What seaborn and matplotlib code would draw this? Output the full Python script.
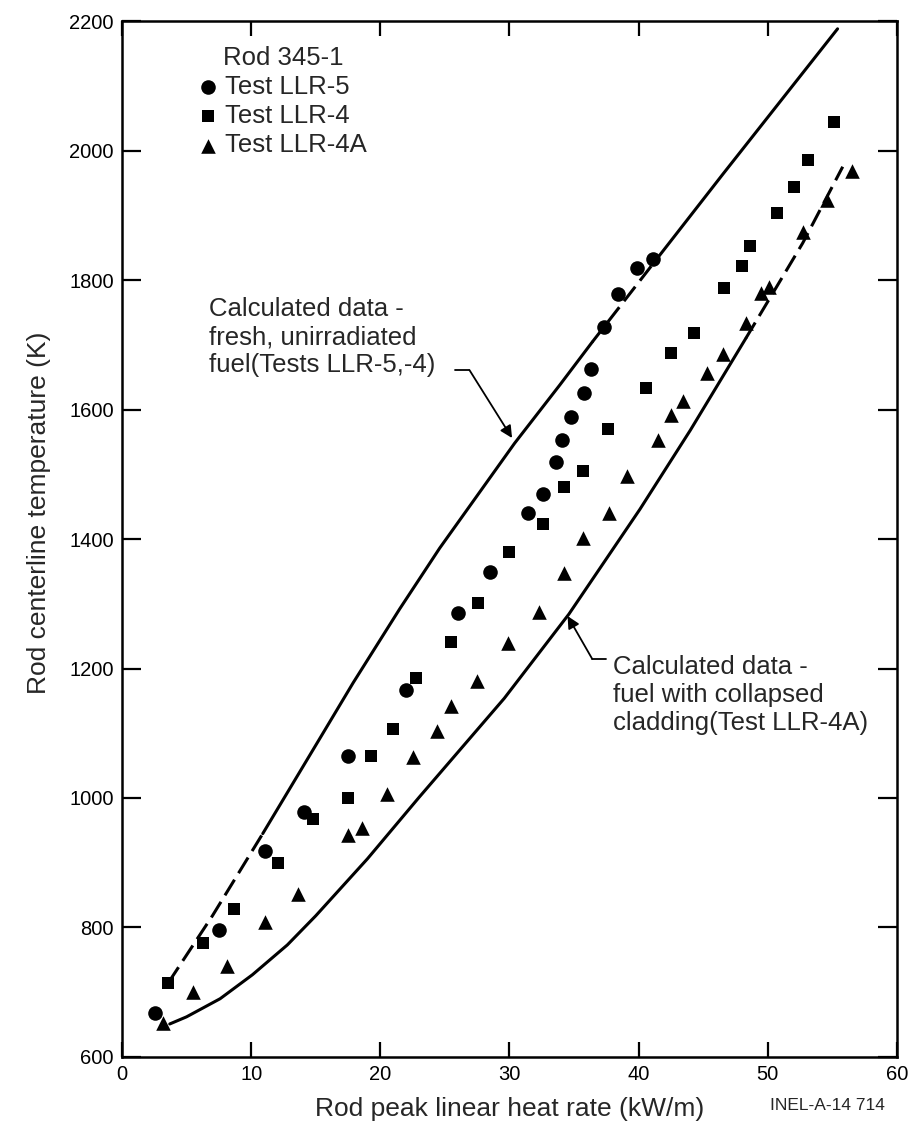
import numpy as np
import pandas as pd
import matplotlib
matplotlib.use("Agg")
import matplotlib.pyplot as plt
import seaborn as sns

# Measured centerline temperatures, Rod 345-1
llr5_q = [2.55, 7.5, 11.1, 14.1, 17.5, 22.0, 26.0, 28.5, 31.4, 32.6, 33.6, 34.1,
          34.8, 35.8, 36.3, 37.3, 38.4, 39.9, 41.1]
llr5_t = [668, 796, 918, 978, 1065, 1167, 1286, 1349, 1440, 1469, 1519, 1553,
          1588, 1625, 1663, 1727, 1778, 1818, 1832]

llr4_q = [3.6, 6.3, 8.7, 12.1, 14.8, 17.5, 19.3, 21.0, 22.8, 25.5, 27.6, 30.0,
          32.6, 34.2, 35.7, 37.6, 40.6, 42.5, 44.3, 46.6, 48.0, 48.6, 50.7, 52.0,
          53.1, 55.1]
llr4_t = [714, 776, 829, 900, 968, 1000, 1065, 1107, 1185, 1241, 1301, 1380,
          1423, 1480, 1505, 1570, 1633, 1687, 1718, 1788, 1822, 1852, 1903, 1944,
          1985, 2044]

llr4a_q = [3.2, 5.5, 8.1, 11.1, 13.6, 17.5, 18.6, 20.5, 22.5, 24.4, 25.5, 27.5,
           29.9, 32.3, 34.2, 35.7, 37.7, 39.1, 41.5, 42.5, 43.4, 45.3, 46.5, 48.3,
           49.5, 50.1, 52.7, 54.6, 56.5]
llr4a_t = [652, 700, 741, 808, 852, 943, 954, 1006, 1063, 1103, 1142, 1181,
           1239, 1287, 1347, 1401, 1440, 1497, 1553, 1591, 1613, 1656, 1686, 1734,
           1780, 1789, 1874, 1924, 1968]

# Calculated curves
fresh_q = [3.6, 7.0, 10.9, 15.5, 17.9, 21.5, 24.6, 30.4, 33.9, 36.4, 41.5, 46.5, 55.4]
fresh_t = [715, 818, 945, 1098, 1178, 1292, 1386, 1548, 1638, 1704, 1835, 1963, 2188]
# (start, end, dashed) index ranges along the fresh-fuel curve
fresh_parts = [(0, 2, True), (2, 9, False), (9, 10, True), (10, 12, False)]

collapsed_q = [3.7, 5.0, 7.6, 10.1, 12.8, 15.0, 19.0, 23.0, 29.6, 34.6, 40.1, 44.0,
               48.3, 52.7, 55.8]
collapsed_t = [651, 662, 690, 727, 773, 818, 906, 1001, 1154, 1284, 1446, 1568,
               1710, 1857, 1975]
collapsed_parts = [(0, 12, False), (12, 14, True)]

x_ticks = [0, 10, 20, 30, 40, 50, 60]
y_ticks = [600, 800, 1000, 1200, 1400, 1600, 1800, 2000, 2200]

sns.set_style("ticks")
plt.rcParams["font.family"] = ["Liberation Sans", "DejaVu Sans"]

fig = plt.figure(figsize=(9.15, 11.26), dpi=100)
ax = fig.add_axes([0.1333, 0.0613, 0.8470, 0.9200])


def draw_curve(q, t, parts):
    for i0, i1, dashed in parts:
        seg = pd.DataFrame({"q": q[i0:i1 + 1], "t": t[i0:i1 + 1]})
        sns.lineplot(data=seg, x="q", y="t", ax=ax, color="black", lw=2.2,
                     sort=False, estimator=None,
                     dashes=False, linestyle=(0, (6, 2.5)) if dashed else "-")


draw_curve(fresh_q, fresh_t, fresh_parts)
draw_curve(collapsed_q, collapsed_t, collapsed_parts)

series = [
    ("Test LLR-5", llr5_q, llr5_t, "o", 110),
    ("Test LLR-4", llr4_q, llr4_t, "s", 85),
    ("Test LLR-4A", llr4a_q, llr4a_t, "^", 110),
]
for name, q, t, mk, size in series:
    d = pd.DataFrame({"q": q, "t": t})
    sns.scatterplot(data=d, x="q", y="t", ax=ax, marker=mk, s=size,
                    color="black", edgecolor="black", linewidth=0, label=name,
                    zorder=3)

ax.set_xlim(0, 60)
ax.set_ylim(600, 2200)
ax.set_xticks(x_ticks)
ax.set_yticks(y_ticks)
ax.set_xticklabels([str(v) for v in x_ticks])
ax.set_yticklabels([str(v) for v in y_ticks])
ax.tick_params(axis="both", direction="in", width=1.6, length=11,
               labelsize=14.5, top=True, right=True, labeltop=False,
               labelright=False, colors="black", pad=6)
ax.tick_params(axis="y", length=14)
for sp in ax.spines.values():
    sp.set_linewidth(1.8)
    sp.set_color("black")

ax.set_xlabel("Rod peak linear heat rate (kW/m)", fontsize=19)
ax.set_ylabel("Rod centerline temperature (K)", fontsize=19)
ax.xaxis.set_label_coords(0.5, -0.039)
ax.yaxis.set_label_coords(-0.092, 0.525)

leg = ax.legend(loc="upper left", bbox_to_anchor=(0.1, 0.976), frameon=False,
                title="Rod 345-1", fontsize=18.5, title_fontsize=18.5,
                borderpad=0, borderaxespad=0, handlelength=0.7,
                handletextpad=0.3, labelspacing=0.2)

# Leaders to the calculated curves
ax.text(6.7, 1712, "Calculated data -\nfresh, unirradiated\nfuel(Tests LLR-5,-4)",
        fontsize=18.5, ha="left", va="center", linespacing=1.2)
ax.plot([25.75, 26.9], [1661, 1661], color="black", lw=1.3)
ax.annotate("", xy=(30.2, 1556), xytext=(26.9, 1661),
            arrowprops=dict(arrowstyle="-|>", color="black", lw=1.3,
                            mutation_scale=18, shrinkA=0, shrinkB=0))

ax.text(38.0, 1159, "Calculated data -\nfuel with collapsed\ncladding(Test LLR-4A)",
        fontsize=18.5, ha="left", va="center", linespacing=1.2)
ax.plot([37.5, 36.4], [1215, 1215], color="black", lw=1.3)
ax.annotate("", xy=(34.5, 1281), xytext=(36.4, 1215),
            arrowprops=dict(arrowstyle="-|>", color="black", lw=1.3,
                            mutation_scale=18, shrinkA=0, shrinkB=0))

fig.text(0.842, 0.018, "INEL-A-14 714", fontsize=12.5, ha="left", va="center")

fig.savefig("out.png", dpi=100, facecolor="white")
